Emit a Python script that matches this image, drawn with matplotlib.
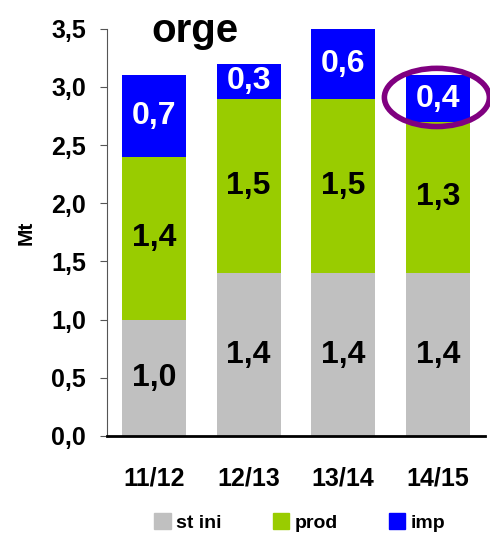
import numpy as np
import matplotlib.pyplot as plt
from matplotlib.patches import Ellipse, Patch

plt.rcParams['font.family'] = ['Liberation Sans', 'DejaVu Sans']

campagnes = ['11/12', '12/13', '13/14', '14/15']
st_ini = [1.0, 1.4, 1.4, 1.4]
prod = [1.4, 1.5, 1.5, 1.3]
imp = [0.7, 0.3, 0.6, 0.4]

c_st = '#c0c0c0'
c_prod = '#99cc00'
c_imp = '#0000ff'

fig = plt.figure(figsize=(4.9, 5.33), dpi=100)
ax = fig.add_axes([0.218, 0.182, 0.772, 0.764])

x = np.arange(len(campagnes))
w = 0.68
ax.bar(x, st_ini, w, color=c_st)
ax.bar(x, prod, w, bottom=st_ini, color=c_prod)
bot3 = np.array(st_ini) + np.array(prod)
ax.bar(x, imp, w, bottom=bot3, color=c_imp)

fmt = lambda v: ('%.1f' % v).replace('.', ',')
for i in range(len(x)):
    ax.text(x[i], st_ini[i] / 2, fmt(st_ini[i]), ha='center', va='center',
            fontsize=23, fontweight='bold', color='black')
    ax.text(x[i], st_ini[i] + prod[i] / 2, fmt(prod[i]), ha='center', va='center',
            fontsize=23, fontweight='bold', color='black')
    ax.text(x[i], bot3[i] + imp[i] / 2, fmt(imp[i]), ha='center', va='center',
            fontsize=23, fontweight='bold', color='white')

# ellipse around last import value
ell = Ellipse((2.99, 2.91), 1.11, 0.5, fill=False, edgecolor='#800080', lw=4, clip_on=False)
ax.add_patch(ell)

ax.text(0.43, 3.48, 'orge', ha='center', va='center', fontsize=29, fontweight='bold')

ax.set_xlim(-0.5, 3.5)
ax.set_ylim(0, 3.5)
ax.set_yticks(np.arange(0, 3.51, 0.5))
ax.set_yticklabels([fmt(v) for v in np.arange(0, 3.51, 0.5)], fontsize=18, fontweight='bold')
ax.set_xticks(x)
ax.set_xticklabels(campagnes, fontsize=18, fontweight='bold')
ax.tick_params(axis='x', length=0, pad=22)
ax.tick_params(axis='y', length=5, color='#555555', pad=10)
ax.set_ylabel('Mt', fontsize=15, fontweight='bold', labelpad=11)
ax.spines['top'].set_visible(False)
ax.spines['right'].set_visible(False)
ax.spines['left'].set_color('#555555')
ax.spines['bottom'].set_linewidth(2)

handles = [Patch(color=c_st), Patch(color=c_prod), Patch(color=c_imp)]
fig.legend(handles, ['st ini', 'prod', 'imp'], loc='center', bbox_to_anchor=(0.612, 0.02),
           ncol=3, frameon=False, prop={'weight': 'bold', 'size': 14},
           handlelength=0.85, handleheight=0.85, handletextpad=0.3, columnspacing=2.6)

fig.savefig('out.png', dpi=100)
